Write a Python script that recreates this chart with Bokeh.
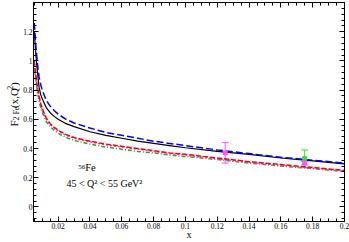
from math import pi
from bokeh.plotting import figure
from bokeh.layouts import row
from bokeh.models import (LinearAxis, Range1d, SingleIntervalTicker, CustomJSTickFormatter,
                          Label, Whisker, ColumnDataSource, TeeHead)
from bokeh.core.properties import value
from bokeh.embed import file_html
from bokeh.resources import INLINE

# ---- data ----
x = [0.005, 0.006, 0.007, 0.008, 0.009, 0.01, 0.0125, 0.015, 0.0175, 0.02, 0.025, 0.03,
     0.04, 0.05, 0.06, 0.07, 0.08, 0.09, 0.1, 0.12, 0.14, 0.16, 0.18, 0.2]
f2_blue = [1.26, 1.10, 0.98, 0.89, 0.84, 0.80, 0.73, 0.69, 0.66, 0.635, 0.60, 0.575,
           0.54, 0.51, 0.49, 0.47, 0.45, 0.435, 0.42, 0.39, 0.365, 0.34, 0.32, 0.30]
f2_black = [1.20, 1.04, 0.92, 0.82, 0.77, 0.74, 0.68, 0.645, 0.62, 0.60, 0.57, 0.55,
            0.515, 0.49, 0.47, 0.45, 0.435, 0.42, 0.405, 0.38, 0.36, 0.335, 0.315, 0.295]
f2_red = [1.00, 0.90, 0.82, 0.76, 0.71, 0.675, 0.61, 0.57, 0.545, 0.525, 0.495, 0.475,
          0.45, 0.43, 0.415, 0.40, 0.385, 0.37, 0.36, 0.335, 0.31, 0.29, 0.27, 0.25]
f2_magenta = [0.98, 0.88, 0.80, 0.745, 0.70, 0.665, 0.60, 0.565, 0.54, 0.52, 0.49, 0.47,
              0.445, 0.425, 0.41, 0.395, 0.38, 0.365, 0.355, 0.33, 0.305, 0.285, 0.265, 0.247]
f2_green = [0.95, 0.86, 0.78, 0.73, 0.68, 0.65, 0.585, 0.55, 0.525, 0.505, 0.475, 0.455,
            0.43, 0.41, 0.395, 0.38, 0.37, 0.355, 0.345, 0.325, 0.30, 0.28, 0.262, 0.243]

pts_mag_x = [0.125, 0.175]
pts_mag_y = [0.37, 0.30]
pts_mag_lo = [0.30, 0.288]
pts_mag_hi = [0.44, 0.312]
pts_grn_x = [0.175]
pts_grn_y = [0.33]
pts_grn_lo = [0.27]
pts_grn_hi = [0.39]

SERIF = "Liberation Serif"
W, H = 349, 242
LW = 20  # width of the strip holding the y-axis title

p = figure(width=W - LW, height=H, output_backend="svg", toolbar_location=None,
           x_range=Range1d(0.0045, 0.2), y_range=Range1d(-0.1, 1.4),
           x_axis_type=None, y_axis_type=None,
           min_border_left=31 - LW, min_border_right=5, min_border_top=2, min_border_bottom=20,
           background_fill_color="white", border_fill_color="white")
p.outline_line_color = "black"
p.outline_line_width = 1

fmt = CustomJSTickFormatter(code="return String(Math.round(tick*1000)/1000);")
blank = CustomJSTickFormatter(code="return '';")


def style(ax, labels):
    ax.major_tick_in = 5
    ax.major_tick_out = 0
    ax.minor_tick_in = 3
    ax.minor_tick_out = 0
    ax.axis_line_color = "black"
    ax.major_tick_line_color = "black"
    ax.minor_tick_line_color = "black"
    ax.major_label_text_font = SERIF
    ax.major_label_text_color = "black"
    if labels:
        ax.major_label_text_font_size = "7.5px"
        ax.major_label_standoff = 2
        ax.formatter = fmt
    else:
        ax.major_label_text_font_size = "0px"
        ax.major_label_standoff = 0
        ax.formatter = blank


for loc in ["below", "above"]:
    ax = LinearAxis(ticker=SingleIntervalTicker(interval=0.02, num_minor_ticks=4))
    style(ax, loc == "below")
    if loc == "below":
        ax.major_label_standoff = 1
        ax.axis_label = "x"
        ax.axis_label_text_font = SERIF
        ax.axis_label_text_font_size = "10px"
        ax.axis_label_text_font_style = "normal"
        ax.axis_label_text_color = "black"
        ax.axis_label_standoff = -3
    p.add_layout(ax, loc)
for loc in ["left", "right"]:
    ax = LinearAxis(ticker=SingleIntervalTicker(interval=0.2, num_minor_ticks=5))
    style(ax, loc == "left")
    if loc == "left":
        ax.major_label_standoff = 1
    p.add_layout(ax, loc)

# curves
p.line(x, f2_green, line_color="#22aa22", line_width=1.5, line_dash="4 2 1 2")
p.line(x, f2_magenta, line_color="#ff33ff", line_width=1.5, line_dash="2 2")
p.line(x, f2_red, line_color="#ff0000", line_width=1.5, line_dash="5 2")
p.line(x, f2_black, line_color="black", line_width=1.2)
p.line(x, f2_blue, line_color="#0000ff", line_width=1.5, line_dash="7 3")

# data points with error bars
src_m = ColumnDataSource(dict(x=pts_mag_x, y=pts_mag_y, lo=pts_mag_lo, hi=pts_mag_hi))
src_g = ColumnDataSource(dict(x=pts_grn_x, y=pts_grn_y, lo=pts_grn_lo, hi=pts_grn_hi))
for src, col in [(src_g, "#33dd33"), (src_m, "#ff55ff")]:
    w = Whisker(source=src, base="x", lower="lo", upper="hi", line_color=col, line_width=1,
                upper_head=TeeHead(size=7, line_color=col, line_width=1),
                lower_head=TeeHead(size=7, line_color=col, line_width=1))
    p.add_layout(w)
    p.scatter("x", "y", source=src, marker="square", size=4, color=col)

# annotations inside the plot
p.add_layout(Label(x=0.037, y=0.262, text="56", text_align="right", text_font=SERIF,
                   text_font_size="7px", text_color="black"))
p.add_layout(Label(x=0.037, y=0.232, text="Fe", text_align="left", text_font=SERIF,
                   text_font_size="10.5px", text_color="black"))
p.add_layout(Label(x=0.0252, y=0.123, text="45 < Q² < 55 GeV²", text_font=SERIF,
                   text_font_size="10px", text_color="black"))

# y-axis title strip: F_{2 Fe}(x,Q^2) built from pieces
lab = figure(width=LW, height=H, output_backend="svg", toolbar_location=None,
             x_range=Range1d(0, LW), y_range=Range1d(0, H),
             x_axis_type=None, y_axis_type=None,
             min_border_left=0, min_border_right=0, min_border_top=0, min_border_bottom=0,
             background_fill_color="white", border_fill_color="white")
lab.outline_line_color = None
title_src = ColumnDataSource(dict(
    t=["F", "2 Fe", "(x,Q", "2", ")"],
    fs=["11px", "8px", "11px", "8px", "11px"],
    px=[13.0, 15.5, 13.0, 9.0, 13.0],
    py=[105.0, 111.5, 125.5, 145.6, 149.6],
))
lab.text(x="px", y="py", text="t", source=title_src, angle=pi / 2,
         text_font=value(SERIF), text_font_size="fs", text_color="black",
         text_baseline="alphabetic", text_align="left")

layout = row(lab, p, spacing=0)
open("out.html", "w").write(file_html(layout, INLINE))
